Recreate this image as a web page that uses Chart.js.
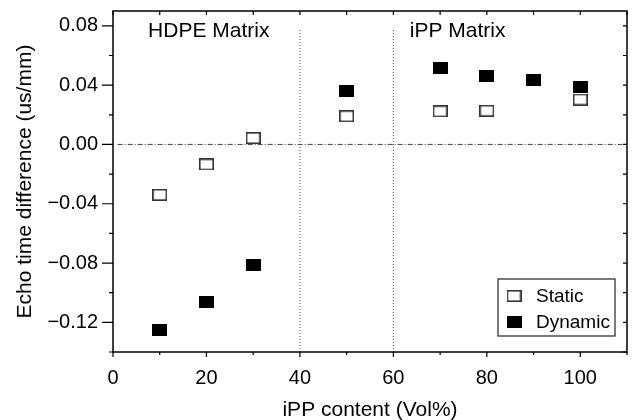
<!DOCTYPE html>
<html>
<head>
<meta charset="utf-8">
<script src="https://cdn.jsdelivr.net/npm/chart.js@4.4.1/dist/chart.umd.min.js"></script>
<style>
  html, body { margin: 0; padding: 0; background: #fff; }
  #wrap { width: 635px; height: 420px; }
</style>
</head>
<body>
<div id="wrap"><canvas id="chart" width="635" height="420"></canvas></div>
<script>
// data
const staticX = [10, 20, 30, 50, 70, 80, 100];
const staticY = [-0.034, -0.0135, 0.0043, 0.019, 0.0223, 0.0227, 0.0303];
const dynamicX = [10, 20, 30, 50, 70, 80, 90, 100];
const dynamicY = [-0.125, -0.106, -0.081, 0.036, 0.0515, 0.046, 0.0436, 0.039];

const seriesLabels = ['Static', 'Dynamic'];
const regionLabels = ['HDPE Matrix', 'iPP Matrix'];
const xTitle = 'iPP content (Vol%)';
const yTitle = 'Echo time difference (us/mm)';

const xTicks = [0, 20, 40, 60, 80, 100];
const xMinorTicks = [10, 30, 50, 70, 90, 110];
const yTicks = [-0.12, -0.08, -0.04, 0, 0.04, 0.08];
const yMinorTicks = [-0.14, -0.10, -0.06, -0.02, 0.02, 0.06];

// matrix boundaries and the zero reference line
const boundaryX = [40, 60];
const boundaryRange = [-0.14, 0.078];
const zeroRange = [1, 109];

const FONT = "'Liberation Sans', Arial, Helvetica, sans-serif";

// rectangular markers like the original plot
function makeMarker(fill, stroke) {
  const c = document.createElement('canvas');
  c.width = 15;
  c.height = 12;
  const g = c.getContext('2d');
  g.fillStyle = fill;
  g.fillRect(0, 0, c.width, c.height);
  if (stroke) {
    g.strokeStyle = stroke;
    g.lineWidth = 1.6;
    g.strokeRect(0.8, 0.8, c.width - 1.6, c.height - 1.6);
  }
  return c;
}
const openMarker = makeMarker('#fff', '#333');
const fullMarker = makeMarker('#000', null);

const toPoints = (xs, ys) => xs.map((x, i) => ({ x: x, y: ys[i] }));

const datasets = [
  {
    label: seriesLabels[0],
    data: toPoints(staticX, staticY),
    pointStyle: openMarker,
    pointRadius: 7,
    showLine: false
  },
  {
    label: seriesLabels[1],
    data: toPoints(dynamicX, dynamicY),
    pointStyle: fullMarker,
    pointRadius: 7,
    showLine: false
  }
];

boundaryX.forEach(bx => {
  datasets.push({
    label: '',
    isRef: true,
    data: boundaryRange.map(v => ({ x: bx, y: v })),
    showLine: true,
    pointRadius: 0,
    borderColor: '#555',
    borderWidth: 1,
    borderDash: [1, 2]
  });
});
datasets.push({
  label: '',
  isRef: true,
  data: zeroRange.map(v => ({ x: v, y: 0 })),
  showLine: true,
  pointRadius: 0,
  borderColor: '#444',
  borderWidth: 1,
  borderDash: [5, 2, 1, 2]
});

const framePlugin = {
  id: 'frame',
  afterDatasetsDraw(chart) {
    const { ctx, chartArea: a, scales: { x, y } } = chart;
    ctx.save();
    ctx.strokeStyle = '#000';
    ctx.lineWidth = 1.5;
    ctx.strokeRect(a.left, a.top, a.right - a.left, a.bottom - a.top);

    ctx.lineWidth = 1.2;
    ctx.beginPath();
    const seg = (x1, y1, x2, y2) => { ctx.moveTo(x1, y1); ctx.lineTo(x2, y2); };
    xTicks.forEach(v => {
      const px = x.getPixelForValue(v);
      seg(px, a.bottom, px, a.bottom + 5);
      seg(px, a.top, px, a.top + 4);
    });
    xMinorTicks.forEach(v => {
      const px = x.getPixelForValue(v);
      seg(px, a.bottom, px, a.bottom + 3);
      seg(px, a.top, px, a.top + 4);
    });
    yTicks.forEach(v => {
      const py = y.getPixelForValue(v);
      seg(a.left - 11, py, a.left, py);
      seg(a.right - 4, py, a.right, py);
    });
    yMinorTicks.forEach(v => {
      const py = y.getPixelForValue(v);
      seg(a.left - 4, py, a.left, py);
      seg(a.right - 4, py, a.right, py);
    });
    ctx.stroke();

    // region labels
    ctx.fillStyle = '#000';
    ctx.font = '21px ' + FONT;
    ctx.textAlign = 'left';
    ctx.textBaseline = 'alphabetic';
    ctx.fillText(regionLabels[0], x.getPixelForValue(7.5), a.top + 26);
    ctx.fillText(regionLabels[1], x.getPixelForValue(63.5), a.top + 26);

    // axis titles
    ctx.textAlign = 'center';
    ctx.fillText(xTitle, (a.left + a.right) / 2, 416);
    ctx.translate(31, (a.top + a.bottom) / 2);
    ctx.rotate(-Math.PI / 2);
    ctx.fillText(yTitle, 0, 0);
    ctx.restore();
  }
};

const legendPlugin = {
  id: 'boxLegend',
  afterDraw(chart) {
    const { ctx, chartArea: a } = chart;
    const w = 117, h = 57;
    const left = a.right - 12 - w;
    const top = a.bottom - 16 - h;
    ctx.save();
    ctx.fillStyle = '#fff';
    ctx.fillRect(left, top, w, h);
    ctx.strokeStyle = '#222';
    ctx.lineWidth = 1.2;
    ctx.strokeRect(left, top, w, h);
    ctx.font = '19px ' + FONT;
    ctx.fillStyle = '#000';
    ctx.textBaseline = 'middle';
    ctx.textAlign = 'left';
    chart.data.datasets.filter(d => !d.isRef).forEach((d, i) => {
      const cy = top + 17 + i * 26;
      const m = d.pointStyle;
      ctx.drawImage(m, left + 16 - m.width / 2, cy - m.height / 2);
      ctx.fillText(d.label, left + 38, cy + 1);
    });
    ctx.restore();
  }
};

new Chart(document.getElementById('chart'), {
  type: 'scatter',
  data: { datasets: datasets },
  plugins: [framePlugin, legendPlugin],
  options: {
    responsive: false,
    animation: false,
    events: [],
    layout: { padding: { top: 11, right: 7, left: 0, bottom: 0 } },
    plugins: {
      legend: { display: false },
      tooltip: { enabled: false }
    },
    scales: {
      x: {
        type: 'linear',
        position: 'bottom',
        min: 0,
        max: 110,
        grid: { display: false, drawTicks: false },
        border: { display: false },
        afterBuildTicks: s => { s.ticks = xTicks.map(v => ({ value: v })); },
        afterFit: s => {
          s.height = 68;
          s.paddingLeft = 0;
          s.paddingRight = 0;
        },
        ticks: {
          color: '#000',
          padding: 14,
          font: { family: FONT, size: 20 },
          callback: v => String(v)
        }
      },
      y: {
        type: 'linear',
        min: -0.14,
        max: 0.09,
        grid: { display: false, drawTicks: false },
        border: { display: false },
        afterBuildTicks: s => { s.ticks = yTicks.map(v => ({ value: v })); },
        afterFit: s => {
          s.width = 113;
          s.paddingTop = 0;
          s.paddingBottom = 0;
        },
        ticks: {
          color: '#000',
          padding: 15,
          font: { family: FONT, size: 20 },
          callback: v => v.toFixed(2).replace('-', '\u2212')
        }
      }
    }
  }
});
</script>
</body>
</html>
